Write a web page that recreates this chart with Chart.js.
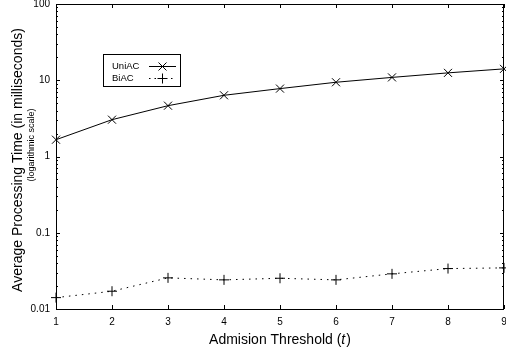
<!DOCTYPE html>
<html>
<head>
<meta charset="utf-8">
<script src="https://cdn.jsdelivr.net/npm/chart.js@4/dist/chart.umd.min.js"></script>
<style>
html,body{margin:0;padding:0;background:#fff;}
#wrap{width:506px;height:352px;position:relative;}
</style>
</head>
<body>
<div id="wrap"><canvas id="c" width="506" height="352"></canvas></div>
<script>
const thresholds = [1, 2, 3, 4, 5, 6, 7, 8, 9];
const uniAC = [1.66, 3.04, 4.64, 6.35, 7.77, 9.41, 10.9, 12.5, 14.1];
const biAC = [0.0141, 0.0171, 0.0256, 0.0241, 0.0253, 0.0241, 0.0289, 0.0339, 0.0346];
const yTickValues = [0.01, 0.1, 1, 10, 100];
const xTickValues = [1, 2, 3, 4, 5, 6, 7, 8, 9];
const seriesNames = ['UniAC', 'BiAC'];
const yTitle = 'Average Processing Time (in milliseconds)';
const ySubtitle = '(logarithmic scale)';
const xTitleMain = 'Admision Threshold (';
const xTitleVar = 't';
const xTitleEnd = ')';

const FONT = '"Liberation Sans", Arial, Helvetica, sans-serif';

const framePlugin = {
  id: 'frame',
  beforeDatasetsDraw(chart) {
    const {ctx, chartArea: a, scales} = chart;
    const x = scales.x, y = scales.y;
    ctx.save();
    ctx.strokeStyle = '#000';
    ctx.lineWidth = 1;
    ctx.beginPath();
    xTickValues.forEach(v => {
      const px = Math.round(x.getPixelForValue(v)) + 0.5;
      ctx.moveTo(px, a.bottom); ctx.lineTo(px, a.bottom - 4);
      ctx.moveTo(px, a.top); ctx.lineTo(px, a.top + 4);
    });
    for (let d = -2; d < 2; d++) {
      for (let m = 1; m <= 10; m++) {
        const v = m * Math.pow(10, d);
        const py = Math.round(y.getPixelForValue(v)) + 0.5;
        const len = (m === 1 || m === 10) ? 4 : 2;
        ctx.moveTo(a.left, py); ctx.lineTo(a.left + len, py);
        ctx.moveTo(a.right, py); ctx.lineTo(a.right - len, py);
      }
    }
    ctx.stroke();
    ctx.strokeRect(Math.round(a.left) + 0.5, Math.round(a.top) + 0.5,
                   Math.round(a.right - a.left) - 1, Math.round(a.bottom - a.top));
    ctx.restore();
  },
  afterDraw(chart) {
    const {ctx, chartArea: a} = chart;
    ctx.save();
    ctx.fillStyle = '#000';
    ctx.save();
    ctx.translate(18, 160);
    ctx.rotate(-Math.PI / 2);
    ctx.font = '14px ' + FONT;
    ctx.textAlign = 'center';
    ctx.textBaseline = 'middle';
    ctx.fillText(yTitle, 0, 0);
    ctx.restore();
    ctx.save();
    ctx.translate(32, 145);
    ctx.rotate(-Math.PI / 2);
    ctx.font = '9px ' + FONT;
    ctx.textAlign = 'center';
    ctx.textBaseline = 'middle';
    ctx.fillText(ySubtitle, 0, 0);
    ctx.restore();
    ctx.font = '14px ' + FONT;
    const w1 = ctx.measureText(xTitleMain).width;
    const w3 = ctx.measureText(xTitleEnd).width;
    ctx.font = 'italic 14px ' + FONT;
    const w2 = ctx.measureText(xTitleVar).width;
    const total = w1 + w2 + w3 + 1;
    let sx = (a.left + a.right) / 2 - total / 2;
    const ty = 340;
    ctx.textBaseline = 'middle';
    ctx.textAlign = 'left';
    ctx.font = '14px ' + FONT;
    ctx.fillText(xTitleMain, sx, ty);
    ctx.font = 'italic 14px ' + FONT;
    ctx.fillText(xTitleVar, sx + w1, ty);
    ctx.font = '14px ' + FONT;
    ctx.fillText(xTitleEnd, sx + w1 + w2 + 1, ty);
    ctx.strokeStyle = '#000';
    ctx.lineWidth = 1;
    ctx.strokeRect(103.5, 54.5, 77, 32);
    ctx.font = '9.5px ' + FONT;
    ctx.textBaseline = 'middle';
    ctx.fillText(seriesNames[0], 112, 66);
    ctx.fillText(seriesNames[1], 112, 78);
    ctx.beginPath();
    ctx.moveTo(149, 66.5); ctx.lineTo(176, 66.5);
    ctx.stroke();
    ctx.setLineDash([1.5, 4]);
    ctx.beginPath();
    ctx.moveTo(149, 78.5); ctx.lineTo(176, 78.5);
    ctx.stroke();
    ctx.setLineDash([]);
    ctx.beginPath();
    const r = 4;
    ctx.moveTo(162.5 - r, 66.5 - r); ctx.lineTo(162.5 + r, 66.5 + r);
    ctx.moveTo(162.5 - r, 66.5 + r); ctx.lineTo(162.5 + r, 66.5 - r);
    ctx.moveTo(162.5 - 5, 78.5); ctx.lineTo(162.5 + 5, 78.5);
    ctx.moveTo(162.5, 78.5 - 5); ctx.lineTo(162.5, 78.5 + 5);
    ctx.stroke();
    ctx.restore();
  }
};

new Chart(document.getElementById('c'), {
  type: 'line',
  data: {
    datasets: [
      {
        label: seriesNames[0],
        data: thresholds.map((t, i) => ({x: t, y: uniAC[i]})),
        borderColor: '#000',
        backgroundColor: '#000',
        borderWidth: 1,
        pointStyle: 'crossRot',
        pointRadius: 5.7,
        pointBorderWidth: 1,
        pointBorderColor: '#000',
        tension: 0,
        clip: false
      },
      {
        label: seriesNames[1],
        data: thresholds.map((t, i) => ({x: t, y: biAC[i]})),
        borderColor: '#000',
        backgroundColor: '#000',
        borderWidth: 1,
        borderDash: [1.5, 5],
        pointStyle: 'cross',
        pointRadius: 5,
        pointBorderWidth: 1,
        pointBorderColor: '#000',
        tension: 0,
        clip: false
      }
    ]
  },
  options: {
    responsive: false,
    animation: false,
    events: [],
    layout: {autoPadding: false, padding: {top: 4, right: 2, left: 0, bottom: 0}},
    plugins: {legend: {display: false}, tooltip: {enabled: false}, title: {display: false}},
    scales: {
      x: {
        type: 'linear',
        min: 1, max: 9,
        grid: {display: false, drawTicks: false},
        border: {display: false},
        afterBuildTicks: s => { s.ticks = xTickValues.map(v => ({value: v})); },
        ticks: {
          color: '#000',
          font: {family: FONT, size: 10},
          padding: 7,
          maxRotation: 0,
          autoSkip: false,
          callback: v => String(v)
        },
        afterFit: s => { s.height = 43; s.paddingLeft = 0; s.paddingRight = 0; }
      },
      y: {
        type: 'logarithmic',
        min: 0.01, max: 100,
        grid: {display: false, drawTicks: false},
        border: {display: false},
        afterBuildTicks: s => { s.ticks = yTickValues.map(v => ({value: v, major: true})); },
        ticks: {
          color: '#000',
          font: {family: FONT, size: 10},
          padding: 6,
          autoSkip: false,
          callback: v => String(v)
        },
        afterFit: s => { s.width = 56; s.paddingTop = 0; s.paddingBottom = 0; }
      }
    }
  },
  plugins: [framePlugin]
});
</script>
</body>
</html>
